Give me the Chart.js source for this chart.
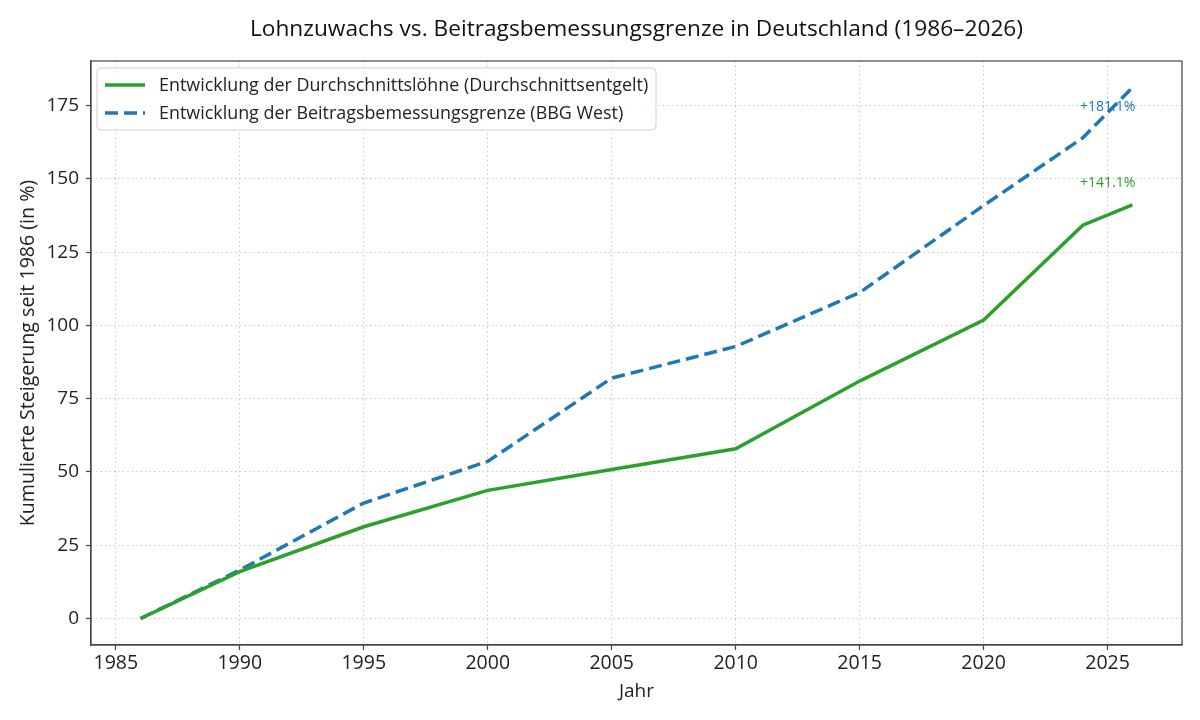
<!DOCTYPE html>
<html>
<head>
<meta charset="utf-8">
<script src="https://cdn.jsdelivr.net/npm/chart.js@4.4.1/dist/chart.umd.min.js"></script>
<style>
html,body{margin:0;padding:0;background:#fff;}
#wrap{width:1200px;height:720px;}
</style>
</head>
<body>
<div id="wrap"><canvas id="c" width="1200" height="720"></canvas></div>
<script>
const years = [1986, 1990, 1995, 2000, 2005, 2010, 2015, 2020, 2024, 2026];
const wages = [0, 16, 31.3, 43.7, 50.8, 57.9, 81, 101.8, 134.2, 141.1];
const bbg = [0, 16.5, 39.4, 53.6, 82, 92.8, 111.2, 140.9, 164, 181.1];
const seriesLabels = [
  'Entwicklung der Durchschnittslöhne (Durchschnittsentgelt)',
  'Entwicklung der Beitragsbemessungsgrenze (BBG West)'
];
const endLabels = ['+141.1%', '+181.1%'];
const titleText = 'Lohnzuwachs vs. Beitragsbemessungsgrenze in Deutschland (1986–2026)';

const FONT = '"Open Sans", Roboto, sans-serif';
const GREEN = '#2ca02c', BLUE = '#1f77b4';
const SPINE = '#444';

const toPts = (xs, ys) => xs.map((x, i) => ({x: x, y: ys[i]}));

const decor = {
  id: 'decor',
  beforeDraw(chart) {
    const ctx = chart.ctx;
    ctx.save();
    ctx.fillStyle = '#fff';
    ctx.fillRect(0, 0, chart.width, chart.height);
    ctx.restore();
  },
  afterDraw(chart) {
    const ctx = chart.ctx;
    const a = chart.chartArea;
    const xs = chart.scales.x, ys = chart.scales.y;
    ctx.save();
    ctx.setLineDash([]);
    // spines
    ctx.strokeStyle = SPINE;
    ctx.lineWidth = 1.2;
    ctx.strokeRect(a.left, a.top, a.right - a.left, a.bottom - a.top);
    // title
    ctx.fillStyle = '#111';
    ctx.font = '22.7px ' + FONT;
    ctx.textAlign = 'center';
    ctx.textBaseline = 'middle';
    ctx.fillText(titleText, (a.left + a.right) / 2, 30);
    // end labels
    ctx.font = '14px ' + FONT;
    const offs = [-22, 19];
    chart.data.datasets.forEach((ds, i) => {
      const last = ds.data[ds.data.length - 1];
      const px = xs.getPixelForValue(last.x - 1);
      const py = ys.getPixelForValue(last.y) + offs[i];
      ctx.fillStyle = ds.borderColor;
      ctx.fillText(endLabels[i], px, py);
    });
    // legend
    const lx = a.left + 6, ly = a.top + 7, lw = 559, lh = 62;
    ctx.beginPath();
    if (ctx.roundRect) ctx.roundRect(lx, ly, lw, lh, 4); else ctx.rect(lx, ly, lw, lh);
    ctx.fillStyle = 'rgba(255,255,255,0.85)';
    ctx.fill();
    ctx.strokeStyle = '#d0d0d0';
    ctx.lineWidth = 1;
    ctx.stroke();
    ctx.font = '17.9px ' + FONT;
    ctx.textAlign = 'left';
    chart.data.datasets.forEach((ds, i) => {
      const ry = ly + 17 + i * 28;
      ctx.strokeStyle = ds.borderColor;
      ctx.lineWidth = ds.borderWidth;
      ctx.setLineDash(ds.borderDash || []);
      ctx.beginPath();
      ctx.moveTo(lx + 8, ry); ctx.lineTo(lx + 48, ry);
      ctx.stroke();
      ctx.setLineDash([]);
      ctx.fillStyle = '#222';
      ctx.fillText(ds.label, lx + 62, ry + 1);
    });
    ctx.restore();
  }
};

const gridCommon = {
  color: 'rgba(175,175,175,0.75)',
  lineWidth: 0.9,
  borderDash: [1.5, 3],
  dash: [1.5, 3],
  tickColor: SPINE,
  tickLength: 5,
  tickWidth: 1.2,
  tickBorderDash: []
};
const borderCommon = {display: true, color: SPINE, width: 1.2, dash: [1.5, 3]};

new Chart(document.getElementById('c'), {
  type: 'line',
  data: {
    datasets: [
      {label: seriesLabels[0], data: toPts(years, wages), borderColor: GREEN, backgroundColor: GREEN,
       borderWidth: 3.5, pointRadius: 0, tension: 0, fill: false},
      {label: seriesLabels[1], data: toPts(years, bbg), borderColor: BLUE, backgroundColor: BLUE,
       borderWidth: 3.5, borderDash: [13, 6], borderCapStyle: 'butt', pointRadius: 0, tension: 0, fill: false}
    ]
  },
  plugins: [decor],
  options: {
    responsive: false,
    animation: false,
    devicePixelRatio: 1,
    layout: {padding: {top: 61, right: 18, left: 0, bottom: 0}},
    plugins: {legend: {display: false}, title: {display: false}, tooltip: {enabled: false}},
    scales: {
      x: {
        type: 'linear', min: 1984, max: 2028,
        ticks: {stepSize: 5, includeBounds: false, font: {family: FONT, size: 19.5}, color: '#222', padding: 2, maxRotation: 0,
                callback: v => String(v)},
        grid: gridCommon,
        border: borderCommon,
        title: {display: true, text: 'Jahr', font: {family: FONT, size: 19}, color: '#222', padding: {top: 0, bottom: 17}},
        afterFit(s) { s.height = 75; }
      },
      y: {
        type: 'linear', min: -9.05, max: 190.2,
        ticks: {stepSize: 25, includeBounds: false, font: {family: FONT, size: 19}, color: '#222', padding: 7,
                callback: v => String(v)},
        grid: gridCommon,
        border: borderCommon,
        title: {display: true, text: 'Kumulierte Steigerung seit 1986 (in %)', font: {family: FONT, size: 19.6}, color: '#222', padding: {top: 17, bottom: 0}},
        afterFit(s) { s.width = 91; }
      }
    }
  }
});
</script>
</body>
</html>
